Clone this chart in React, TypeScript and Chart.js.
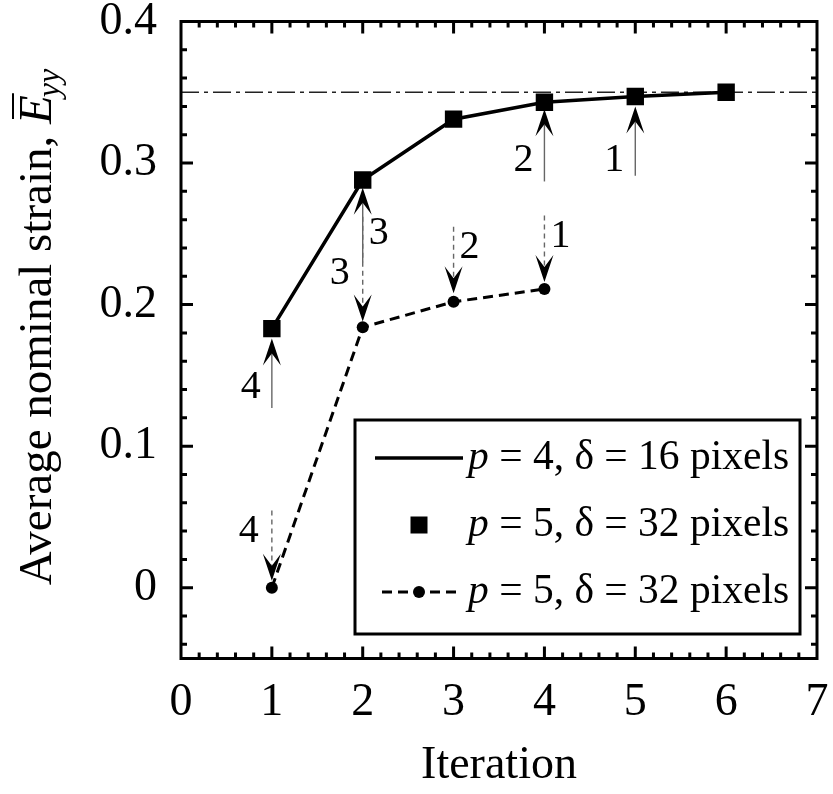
import { useEffect, useRef } from "react";
import { Chart, registerables } from "chart.js";

Chart.register(...registerables);

// ---------- data ----------
const solidIterations = [1, 2, 3, 4, 5, 6];
const solidStrain = [0.183, 0.288, 0.331, 0.343, 0.347, 0.35];
const dashedIterations = [1, 2, 3, 4];
const dashedStrain = [0.0, 0.184, 0.202, 0.211];
const referenceStrain = 0.35;

const xTickValues = [0, 1, 2, 3, 4, 5, 6, 7];
const yTickValues = [0, 0.1, 0.2, 0.3, 0.4];
const xMin = 0;
const xMax = 7;
const yMin = -0.05;
const yMax = 0.4;

const seriesLabels = [
  "p = 4, δ = 16 pixels",
  "p = 5, δ = 32 pixels",
  "p = 5, δ = 32 pixels",
];
const xTitle = "Iteration";
const yTitleText = "Average nominal strain, ";
const yTitleSymbol = "E";
const yTitleSubscript = "yy";

// arrows (solid, pointing up to squares)
const solidArrowIteration = [1, 2, 4, 5];
const solidArrowFrom = [0.127, 0.23, 0.287, 0.291];
const solidArrowTo = [0.176, 0.2825, 0.338, 0.34];
const solidArrowLabel = ["4", "3", "2", "1"];
const solidArrowLabelStrain = [0.1416, 0.2505, 0.302, 0.302];
const solidArrowLabelSide = [-1, 1, -1, -1];

// arrows (dashed, pointing down to dots)
const dashedArrowIteration = [1, 2, 3, 4];
const dashedArrowFrom = [0.0545, 0.262, 0.255, 0.263];
const dashedArrowTo = [0.005, 0.188, 0.208, 0.216];
const dashedArrowLabel = ["4", "3", "2", "1"];
const dashedArrowLabelStrain = [0.04, 0.222, 0.24, 0.248];
const dashedArrowLabelSide = [-1, -1, 1, 1];

// ---------- styles ----------
const SERIF = '"Liberation Serif", "Times New Roman", Times, serif';

function drawArrow(
  ctx: CanvasRenderingContext2D,
  x: number,
  yTail: number,
  yTip: number,
  dashed: boolean
) {
  const d = Math.sign(yTail - yTip) || 1;
  const headLen = 27;
  const notch = 15;
  const half = 9;
  ctx.save();
  ctx.strokeStyle = "#666";
  ctx.lineWidth = 1.4;
  ctx.setLineDash(dashed ? [5, 4] : []);
  ctx.beginPath();
  ctx.moveTo(x, yTail);
  ctx.lineTo(x, yTip + d * notch);
  ctx.stroke();
  ctx.setLineDash([]);
  ctx.fillStyle = "#000";
  ctx.beginPath();
  ctx.moveTo(x, yTip);
  ctx.lineTo(x - half, yTip + d * headLen);
  ctx.lineTo(x, yTip + d * notch);
  ctx.lineTo(x + half, yTip + d * headLen);
  ctx.closePath();
  ctx.fill();
  ctx.restore();
}

const decorPlugin = {
  id: "decor",
  beforeDatasetsDraw(chart: any) {
    const { ctx, chartArea, scales } = chart;
    const py = scales.y.getPixelForValue(referenceStrain);
    ctx.save();
    ctx.strokeStyle = "#222";
    ctx.lineWidth = 1.6;
    ctx.setLineDash([18, 5, 4, 5]);
    ctx.beginPath();
    ctx.moveTo(chartArea.left, py);
    ctx.lineTo(chartArea.right, py);
    ctx.stroke();
    ctx.restore();
  },
  afterDatasetsDraw(chart: any) {
    const { ctx, chartArea, scales } = chart;
    const { left, right, top, bottom } = chartArea;
    const xs = scales.x;
    const ys = scales.y;

    // arrows + labels
    ctx.save();
    ctx.font = `40px ${SERIF}`;
    ctx.fillStyle = "#000";
    ctx.textAlign = "center";
    ctx.textBaseline = "middle";
    solidArrowIteration.forEach((it, i) => {
      const px = xs.getPixelForValue(it);
      drawArrow(ctx, px, ys.getPixelForValue(solidArrowFrom[i]), ys.getPixelForValue(solidArrowTo[i]), false);
      const off = solidArrowLabelSide[i] < 0 ? -21 : 16;
      ctx.fillText(solidArrowLabel[i], px + off, ys.getPixelForValue(solidArrowLabelStrain[i]));
    });
    dashedArrowIteration.forEach((it, i) => {
      const px = xs.getPixelForValue(it);
      drawArrow(ctx, px, ys.getPixelForValue(dashedArrowFrom[i]), ys.getPixelForValue(dashedArrowTo[i]), true);
      const off = dashedArrowLabelSide[i] < 0 ? -23 : 16;
      ctx.fillText(dashedArrowLabel[i], px + off, ys.getPixelForValue(dashedArrowLabelStrain[i]));
    });
    ctx.restore();

    // frame
    ctx.save();
    ctx.strokeStyle = "#000";
    ctx.lineWidth = 3;
    ctx.strokeRect(left, top, right - left, bottom - top);

    // inward ticks
    ctx.lineWidth = 3;
    ctx.beginPath();
    for (let i = 1; i < 35; i++) {
      const v = i / 5;
      const len = i % 5 === 0 ? 12 : 6;
      const px = xs.getPixelForValue(v);
      ctx.moveTo(px, bottom);
      ctx.lineTo(px, bottom - len);
      ctx.moveTo(px, top);
      ctx.lineTo(px, top + len);
    }
    for (let i = -2; i < 20; i++) {
      const v = i * 0.02;
      const len = i % 5 === 0 ? 12 : 6;
      const py = ys.getPixelForValue(v);
      ctx.moveTo(left, py);
      ctx.lineTo(left + len, py);
      ctx.moveTo(right, py);
      ctx.lineTo(right - len, py);
    }
    ctx.stroke();
    ctx.restore();

    // legend
    const bx = left + 174;
    const by = top + 398.5;
    const bw = 445;
    const bh = 214;
    ctx.save();
    ctx.fillStyle = "#fff";
    ctx.fillRect(bx, by, bw, bh);
    ctx.strokeStyle = "#000";
    ctx.lineWidth = 3;
    ctx.strokeRect(bx, by, bw, bh);
    const rowY = [top + 436.5, top + 503.5, top + 570.5];
    const sampleCx = left + 238;
    // row 0: solid line
    ctx.beginPath();
    ctx.lineWidth = 3.5;
    ctx.moveTo(left + 194, rowY[0]);
    ctx.lineTo(left + 282, rowY[0]);
    ctx.stroke();
    // row 1: square
    ctx.fillStyle = "#000";
    ctx.fillRect(sampleCx - 8.5, rowY[1] - 8.5, 17, 17);
    // row 2: dashed with dot
    ctx.beginPath();
    ctx.lineWidth = 3;
    ctx.setLineDash([10, 6]);
    ctx.moveTo(left + 201, rowY[2]);
    ctx.lineTo(left + 275, rowY[2]);
    ctx.stroke();
    ctx.setLineDash([]);
    ctx.beginPath();
    ctx.arc(sampleCx, rowY[2], 6, 0, Math.PI * 2);
    ctx.fill();
    // texts
    ctx.textBaseline = "middle";
    ctx.textAlign = "left";
    seriesLabels.forEach((lab, i) => {
      const tx = left + 287;
      const first = lab.charAt(0);
      const rest = lab.slice(1);
      ctx.font = `italic 41.5px ${SERIF}`;
      ctx.fillText(first, tx, rowY[i]);
      const w = ctx.measureText(first).width;
      ctx.font = `41.5px ${SERIF}`;
      ctx.fillText(rest, tx + w, rowY[i]);
    });
    ctx.restore();

    // y title
    ctx.save();
    ctx.translate(51, top + 304.5);
    ctx.rotate(-Math.PI / 2);
    ctx.fillStyle = "#000";
    ctx.strokeStyle = "#000";
    ctx.textBaseline = "alphabetic";
    ctx.textAlign = "left";
    const romanFont = `47px ${SERIF}`;
    const italicFont = `italic 47px ${SERIF}`;
    const subFont = `italic 32px ${SERIF}`;
    ctx.font = romanFont;
    const w1 = ctx.measureText(yTitleText).width;
    ctx.font = italicFont;
    const w2 = ctx.measureText(yTitleSymbol).width;
    ctx.font = subFont;
    const w3 = ctx.measureText(yTitleSubscript).width;
    const x0 = -(w1 + w2 + w3) / 2;
    ctx.font = romanFont;
    ctx.fillText(yTitleText, x0, 0);
    ctx.font = italicFont;
    ctx.fillText(yTitleSymbol, x0 + w1, 0);
    ctx.lineWidth = 2;
    ctx.beginPath();
    ctx.moveTo(x0 + w1 + 5, -38);
    ctx.lineTo(x0 + w1 + w2 + 2, -38);
    ctx.stroke();
    ctx.font = subFont;
    ctx.fillText(yTitleSubscript, x0 + w1 + w2 - 2, 8);
    ctx.restore();
  },
};

export default function App() {
  const canvasRef = useRef<HTMLCanvasElement | null>(null);

  useEffect(() => {
    document.body.style.margin = "0";
    const canvas = canvasRef.current;
    if (!canvas) return;
    const solidPoints = solidIterations.map((x, i) => ({ x, y: solidStrain[i] }));
    const dashedPoints = dashedIterations.map((x, i) => ({ x, y: dashedStrain[i] }));

    const chart = new Chart(canvas, {
      type: "scatter",
      data: {
        datasets: [
          {
            label: seriesLabels[0],
            data: solidPoints,
            showLine: true,
            borderColor: "#000",
            backgroundColor: "#000",
            borderWidth: 3.5,
            pointRadius: 0,
            order: 3,
          },
          {
            label: seriesLabels[1],
            data: solidPoints,
            showLine: false,
            pointStyle: "rect",
            pointRadius: 12.3,
            pointBackgroundColor: "#000",
            pointBorderColor: "#000",
            pointBorderWidth: 0,
            order: 1,
          },
          {
            label: seriesLabels[2],
            data: dashedPoints,
            showLine: true,
            borderColor: "#000",
            backgroundColor: "#000",
            borderWidth: 3,
            borderDash: [10, 6],
            pointStyle: "circle",
            pointRadius: 6,
            pointBackgroundColor: "#000",
            pointBorderWidth: 0,
            order: 2,
          },
        ],
      } as any,
      options: {
        animation: false,
        responsive: false,
        events: [],
        layout: { padding: { top: 21.5, right: 16, left: 0, bottom: 0 } },
        plugins: {
          legend: { display: false },
          tooltip: { enabled: false },
        },
        scales: {
          x: {
            type: "linear",
            min: xMin,
            max: xMax,
            grid: { display: false, drawTicks: false },
            border: { display: false },
            afterBuildTicks: (s: any) => {
              s.ticks = xTickValues.map((v) => ({ value: v }));
            },
            afterFit: (s: any) => {
              s.height = 135.5;
              s.paddingLeft = 0;
              s.paddingRight = 0;
            },
            ticks: {
              color: "#000",
              font: { family: SERIF, size: 46, lineHeight: 1.2 },
              padding: 17,
              maxRotation: 0,
              autoSkip: false,
              callback: (v: any) => String(v),
            },
            title: {
              display: true,
              text: xTitle,
              color: "#000",
              font: { family: SERIF, size: 46, lineHeight: 1.2 },
              padding: { top: 0, bottom: 0 },
            },
          },
          y: {
            type: "linear",
            min: yMin,
            max: yMax,
            grid: { display: false, drawTicks: false },
            border: { display: false },
            afterBuildTicks: (s: any) => {
              s.ticks = yTickValues.map((v) => ({ value: v }));
            },
            afterFit: (s: any) => {
              s.width = 181;
              s.paddingTop = 0;
              s.paddingBottom = 0;
            },
            ticks: {
              color: "#000",
              font: { family: SERIF, size: 46, lineHeight: 1.2 },
              padding: 24,
              autoSkip: false,
              callback: (v: any) => String(Math.round(Number(v) * 10) / 10),
            },
          },
        },
      } as any,
      plugins: [decorPlugin],
    });
    return () => chart.destroy();
  }, []);

  return (
    <div style={{ position: "absolute", left: 0, top: 0, width: 833, height: 794 }}>
      <canvas ref={canvasRef} width={833} height={794} style={{ width: 833, height: 794, display: "block" }} />
    </div>
  );
}
